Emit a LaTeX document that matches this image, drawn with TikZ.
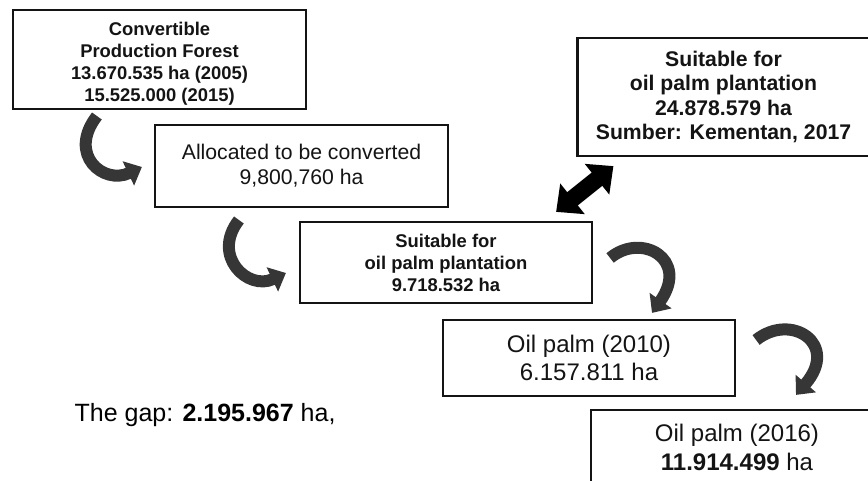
\documentclass[tikz,border=0pt]{standalone}
\usepackage{fontspec}
\setmainfont{Liberation Sans}
\usetikzlibrary{arrows.meta}
\definecolor{ink}{HTML}{141414}
\definecolor{curlGrey}{HTML}{363636}
\tikzset{
  box/.style={draw=ink,line width=2.2pt,fill=white,align=center,inner sep=0pt,text=ink},
  boldS/.style={font={\fontsize{18.4}{22}\selectfont\bfseries}},
  boldM/.style={font={\fontsize{21.2}{24.5}\selectfont\bfseries}},
  plainM/.style={font={\fontsize{21.2}{25}\selectfont}},
  plainL/.style={font={\fontsize{24}{28.5}\selectfont}},
  curl/.style={draw=curlGrey,line width=12pt,-{Triangle[width=26pt,length=15pt]}},
  dbl/.style={draw=black,line width=17pt,
    {Triangle[width=38pt,length=21pt]}-{Triangle[width=38pt,length=21pt]}},
}

\begin{document}
\begin{tikzpicture}[x=1pt,y=-1pt]
\useasboundingbox (0,0) rectangle (868,481);

% ---- boxes ----
\node[box,boldS,minimum width=293,minimum height=99,text height=88pt] (conv) at (159.5,59.5)
  {Convertible\\Production Forest\\13.670.535 ha (2005)\\15.525.000 (2015)};
\node[box,plainM,minimum width=293,minimum height=82] (alloc) at (301.5,166)
  {Allocated to be converted\\9,800,760 ha};
\node[box,boldS,minimum width=292,minimum height=81] (suit) at (446,262.5)
  {Suitable for\\oil palm plantation\\9.718.532 ha};
\node[box,boldM,minimum width=292,minimum height=118] (big) at (723.5,97)
  {Suitable for\\oil palm plantation\\24.878.579 ha\\Sumber: Kementan, 2017};
\node[box,plainL,minimum width=292,minimum height=76] (palmA) at (589,358)
  {Oil palm (2010)\\6.157.811 ha};
\node[box,plainL,minimum width=292,minimum height=75] (palmB) at (737,447.5)
  {Oil palm (2016)\\\textbf{11.914.499} ha};

\node[font={\fontsize{25}{30}\selectfont},anchor=east] (gap) at (339,415)
  {The gap: \textbf{2.195.967} ha,};

% ---- curved arrows ----
\coordinate (c1a) at ([shift={(-57,-50)}]alloc.west);
\coordinate (c1b) at ([shift={(-12,1)}]alloc.west);
\draw[curl] (c1a) .. controls +(-30,39) and +(-38,18) .. (c1b);
\coordinate (c2a) at ([shift={(-60,-42.5)}]suit.west);
\coordinate (c2b) at ([shift={(-13,10.5)}]suit.west);
\draw[curl] (c2a) .. controls +(-28,36) and +(-38,18) .. (c2b);
\coordinate (c3a) at ([shift={(17,-4.5)}]suit.east);
\coordinate (c3b) at ([shift={(63,-6)}]palmA.north);
\draw[curl] (c3a) .. controls +(31,-26) and +(38,-54) .. (c3b);
\coordinate (c4a) at ([shift={(20,-18)}]palmA.east);
\coordinate (c4b) at ([shift={(59,-14)}]palmB.north);
\draw[curl] (c4a) .. controls +(35,-28) and +(44,-51) .. (c4b);

% ---- two-way link ----
\coordinate (d1) at ([shift={(-37,-9)}]suit.north east);
\coordinate (d2) at ([shift={(37,9)}]big.south west);
\draw[dbl] (d1) -- (d2);

\end{tikzpicture}
\end{document}
